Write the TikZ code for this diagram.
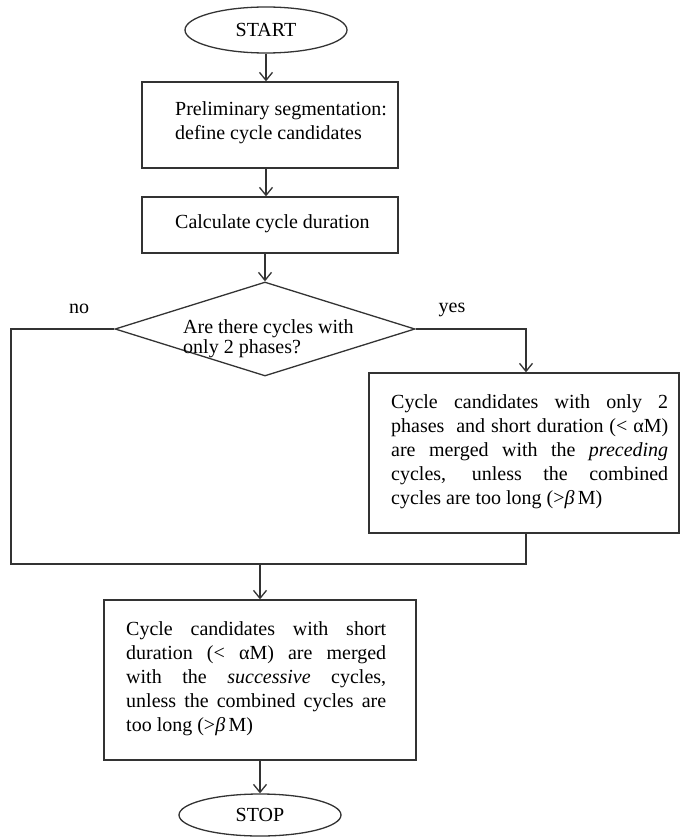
\documentclass[tikz,border=0pt]{standalone}
\usepackage{fontspec}
\setmainfont{Liberation Serif}
\usetikzlibrary{shapes.geometric,arrows.meta}
\tikzset{
  x=1pt,y=-1pt,
  every node/.style={font=\fontsize{20}{24}\selectfont, text=black},
  ln/.style={draw=black!80, line width=1.3pt},
  arr/.style={ln, -{Straight Barb[length=8pt,width=13pt,line width=1.3pt]}},
  term/.style={ellipse, ln, minimum width=162, minimum height=46, inner sep=0pt},
  procbox/.style={rectangle, ln, inner sep=0pt},
  decis/.style={diamond, ln, inner sep=0pt},
  txt/.style={anchor=north west, inner sep=0pt, align=left},
  lbl/.style={anchor=base, inner sep=0pt}
}
\newcommand{\jline}[2]{\makebox[#1][s]{#2}}
\begin{document}
\begin{tikzpicture}
\useasboundingbox (0,0) rectangle (680,837);
% shapes
\node[term] (start) at (266,30) {START};
\node[procbox, minimum width=256, minimum height=86] (box1) at (270,125) {};
\node[procbox, minimum width=256, minimum height=56] (box2) at (270,225) {};
\node[decis, minimum width=300, minimum height=94] (dia) at (265,329) {};
\node[procbox, minimum width=310, minimum height=160] (box3) at (524,453) {};
\node[procbox, minimum width=312, minimum height=160] (box4) at (260,680) {};
\node[term, minimum height=42] (stop) at (260,815) {STOP};
% texts
\node[txt] (t1) at (175,99) {\strut Preliminary segmentation:\\define cycle candidates};
\node[txt] (t2) at (175,211) {\strut Calculate cycle duration};
\node[txt, font=\fontsize{20}{20}\selectfont] (td) at (183,319) {\strut Are there cycles with\\only 2 phases?};
\node[txt] (t3) at (391,391) {\strut\jline{277pt}{Cycle candidates with only 2}\\
\jline{277pt}{phases \ and short duration (< αM)}\\
\jline{277pt}{are merged with the \textit{preceding}}\\
\jline{277pt}{cycles, unless the combined}\\
cycles are too long (>\textit{β}\,M)};
\node[txt] (t4) at (126,618) {\strut\jline{260pt}{Cycle candidates with short}\\
\jline{260pt}{duration (< αM) are merged}\\
\jline{260pt}{with the \textit{successive} cycles,}\\
\jline{260pt}{unless the combined cycles are}\\
too long (>\textit{β}\,M)};
\node[lbl] (no) at (79,313) {no};
\node[lbl] (yes) at (452,312) {yes};
% helper coordinates
\coordinate (nocorner) at (11,329);
\coordinate (yescorner) at (526,329);
\coordinate (merge) at (260,564);
% connectors
\draw[arr] (start.south) -- (start.south |- box1.north);
\draw[arr] (box1.south -| start.south) -- (box2.north -| start.south);
\draw[arr] (box2.south -| dia.north) -- (dia.north);
\draw[arr] (dia.east) -- (yescorner) -- (yescorner |- box3.north);
\draw[ln] (dia.west) -- (nocorner) -- (nocorner |- merge) -- (merge -| yescorner) -- (yescorner |- box3.south);
\draw[arr, line width=1.7pt] (merge) -- (box4.north);
\draw[arr] (box4.south) -- (stop.north);
\end{tikzpicture}
\end{document}
